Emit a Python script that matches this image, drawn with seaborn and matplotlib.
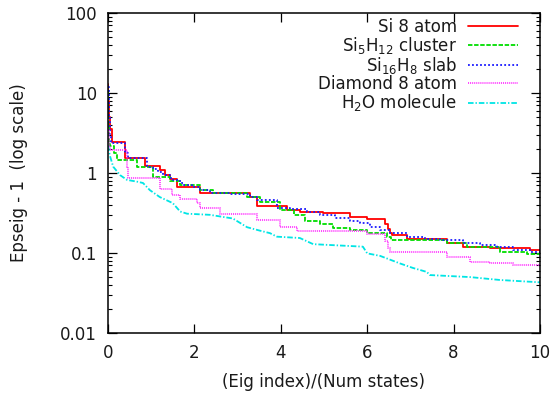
import numpy as np
import pandas as pd
import seaborn as sns
import matplotlib.pyplot as plt
from matplotlib.ticker import FixedLocator, FixedFormatter, LogLocator, NullFormatter

# step curves: x start of each step, value of the step
x_si8 = [0, 0.01, 0.03, 0.05, 0.09, 0.39, 0.86, 1.2, 1.32, 1.44, 1.6, 2.13, 3.29, 3.45, 4.14, 4.44,
         4.98, 5.6, 6.0, 6.41, 6.47, 6.52, 6.57, 6.92, 7.85, 8.22, 8.84, 9.77, 10]
y_si8 = [13, 8, 5, 3.5, 2.46, 1.55, 1.22, 1.09, 0.94, 0.84, 0.67, 0.557, 0.505, 0.387, 0.345, 0.328,
         0.313, 0.284, 0.264, 0.23, 0.2, 0.18, 0.168, 0.148, 0.132, 0.12, 0.115, 0.109, 0.109]

x_cluster = [0, 0.01, 0.03, 0.05, 0.15, 0.21, 0.67, 1.04, 1.44, 1.67, 2.13, 2.43, 3.22, 3.52, 3.98, 4.3,
             4.56, 4.9, 5.21, 5.6, 6.0, 6.46, 6.55, 7.85, 8.31, 9.07, 9.7, 10]
y_cluster = [11, 4, 2.3, 2.15, 1.8, 1.45, 1.2, 0.9, 0.79, 0.71, 0.61, 0.557, 0.50, 0.44, 0.345, 0.30,
             0.25, 0.23, 0.205, 0.193, 0.177, 0.16, 0.145, 0.133, 0.12, 0.104, 0.096, 0.096]

x_slab = [0, 0.02, 0.05, 0.07, 0.39, 0.46, 0.51, 0.90, 1.04, 1.16, 1.27, 1.44, 1.5, 1.67, 1.74, 1.94,
          2.13, 2.36, 2.82, 3.29, 3.45, 3.91, 4.21, 4.61, 4.91, 5.25, 5.6, 5.83, 6.06, 6.30, 6.53, 6.92,
          7.34, 7.69, 8.22, 8.61, 9.0, 9.38, 9.77, 10]
y_slab = [12, 5, 3, 2.4, 1.8, 1.6, 1.54, 1.19, 1.12, 1.03, 0.94, 0.86, 0.82, 0.75, 0.71, 0.66,
          0.61, 0.56, 0.54, 0.5, 0.46, 0.37, 0.35, 0.33, 0.30, 0.27, 0.25, 0.235, 0.21, 0.194, 0.177, 0.16,
          0.15, 0.145, 0.132, 0.125, 0.12, 0.109, 0.104, 0.099]

x_diamond = [0, 0.02, 0.05, 0.44, 0.46, 1.2, 1.48, 1.67, 2.06, 2.13, 2.59, 3.45, 3.98, 4.38, 6.0, 6.41,
             6.47, 6.53, 7.85, 8.38, 8.84, 9.38, 10]
y_diamond = [3.5, 2.2, 1.94, 1.2, 0.87, 0.63, 0.53, 0.47, 0.42, 0.365, 0.31, 0.26, 0.21, 0.19, 0.172, 0.14,
             0.115, 0.104, 0.09, 0.078, 0.074, 0.071, 0.071]

x_h2o = [0, 0.02, 0.05, 0.12, 0.28, 0.44, 0.67, 0.81, 0.97, 1.2, 1.5, 1.67, 1.83, 2.36, 2.89, 3.22,
         3.52, 3.75, 3.91, 4.44, 4.75, 5.9, 6.0, 6.3, 6.76, 7.06, 7.38, 7.45, 8.38, 9.07, 10]
y_h2o = [2.2, 1.9, 1.6, 1.2, 0.94, 0.82, 0.78, 0.75, 0.61, 0.5, 0.42, 0.33, 0.31, 0.30, 0.27, 0.21,
         0.19, 0.177, 0.16, 0.154, 0.129, 0.12, 0.099, 0.092, 0.074, 0.065, 0.058, 0.053, 0.05, 0.046, 0.043]

labels = ['Si 8 atom', 'Si$_5$H$_{12}$ cluster', 'Si$_{16}$H$_8$ slab', 'Diamond 8 atom', 'H$_2$O molecule']
xs = [x_si8, x_cluster, x_slab, x_diamond, x_h2o]
ys = [y_si8, y_cluster, y_slab, y_diamond, y_h2o]

colors = ['#ff0000', '#00dd00', '#1a1aff', '#ff33ff', '#00e5e5']
dashes = [None, (3.2, 1.2), (1.3, 1.6), (0.7, 0.7), (4.0, 1.4, 1.0, 1.4)]
drawstyles = ['steps-post', 'steps-post', 'steps-post', 'steps-post', 'default']

sns.set_theme(style="ticks")
plt.rcParams['font.family'] = ['DejaVu Sans']
plt.rcParams['mathtext.default'] = 'regular'
plt.rcParams['lines.scale_dashes'] = False

fig, ax = plt.subplots(figsize=(5.54, 3.99), dpi=100)
fig.subplots_adjust(left=108/554, right=540/554, top=1-13/399, bottom=1-333/399)

for lab, x, y, col, dash, ds in zip(labels, xs, ys, colors, dashes, drawstyles):
    sns.lineplot(x=x, y=y, ax=ax, color=col, lw=1.3, drawstyle=ds,
                 estimator=None, sort=False, label=lab)
    if dash is not None:
        ax.lines[-1].set_dashes(dash)

ax.set_yscale('log')
ax.set_xlim(0, 10)
ax.set_ylim(0.01, 100)
ax.grid(False)

ax.set_xticks([0, 2, 4, 6, 8, 10])
ax.yaxis.set_major_locator(FixedLocator([0.01, 0.1, 1, 10, 100]))
ax.yaxis.set_major_formatter(FixedFormatter(['0.01', '0.1', '1', '10', '100']))
ax.yaxis.set_minor_locator(LogLocator(base=10, subs=np.arange(2, 10)))
ax.yaxis.set_minor_formatter(NullFormatter())

ax.tick_params(which='both', direction='in', top=True, right=True, color='black')
ax.tick_params(which='major', length=6.5, width=0.9, labelsize=12, pad=8, labelcolor='#1a1a1a')
ax.tick_params(which='minor', length=3.2, width=0.8)
for s in ax.spines.values():
    s.set_color('black')
    s.set_linewidth(1.1)

ax.set_xlabel('(Eig index)/(Num states)', fontsize=12, color='#1a1a1a')
ax.set_ylabel('Epseig - 1  (log scale)', fontsize=12, color='#1a1a1a')
ax.xaxis.set_label_coords(0.5, -0.125)
ax.yaxis.set_label_coords(-0.185, 0.5)

leg = ax.legend(loc='upper right', bbox_to_anchor=(0.949, 0.985), frameon=False, markerfirst=False,
                borderpad=0, borderaxespad=0, handlelength=3.0, handletextpad=0.65,
                labelspacing=-0.05, fontsize=12)
for t in leg.get_texts():
    t.set_color('#1a1a1a')

fig.savefig('out.png', dpi=100)
